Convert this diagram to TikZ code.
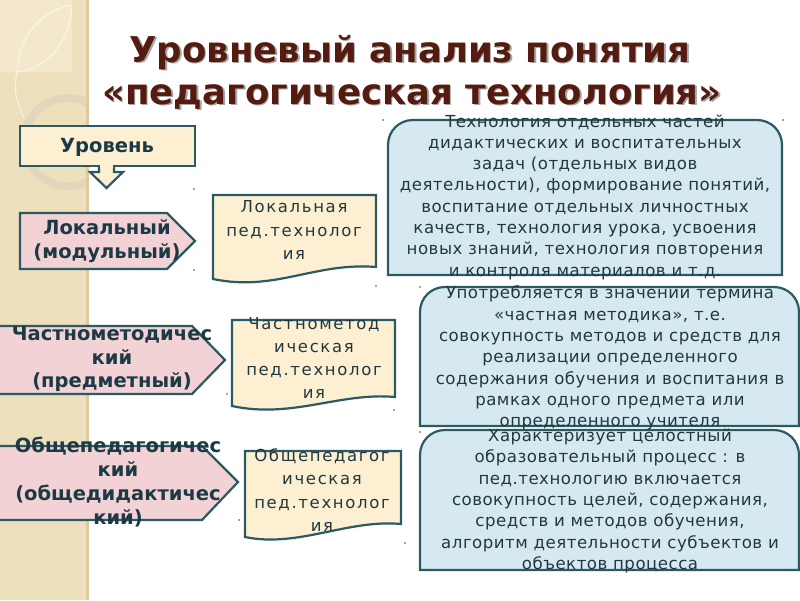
\documentclass[tikz,border=0pt]{standalone}
\usepackage{fontspec}
\setmainfont{DejaVu Sans}
\newfontfamily\dvs[LetterSpace=3]{DejaVu Sans}
\newfontfamily\dvw[LetterSpace=10]{DejaVu Sans}
\definecolor{bordc}{HTML}{2C5A64}
\definecolor{creamc}{HTML}{FDF0D2}
\definecolor{pinkc}{HTML}{F2D2D5}
\definecolor{bluec}{HTML}{D7E9F0}
\definecolor{labc}{HTML}{1B3A46}
\definecolor{boxtxt}{HTML}{22383F}
\definecolor{titc}{HTML}{561B10}
\definecolor{stripc}{HTML}{EFE0BD}
\definecolor{stripl}{HTML}{F4E8CC}
\definecolor{stripd}{HTML}{DCCB9F}
\definecolor{ringc}{HTML}{E2D6BC}
\tikzset{
  bord/.style={draw=bordc, line width=2.2pt, line join=miter},
  bluebox/.style={bord, fill=bluec},
  docbox/.style={bord, fill=creamc},
  pentbox/.style={bord, fill=pinkc},
  titletxt/.style={font=\bfseries\fontsize{35.5}{42}\selectfont, text=titc, inner sep=0pt, anchor=base},
  titleshadow/.style={font=\bfseries\fontsize{35.5}{42}\selectfont, text=black!35, inner sep=0pt, anchor=base},
  bluetxt/.style={font=\dvs\fontsize{16.6}{21.3}\selectfont, text=boxtxt, align=center, inner sep=0pt},
  doctxt/.style={font=\dvw\fontsize{16.5}{23.3}\selectfont, text=boxtxt, align=center, inner sep=0pt},
  labtxt/.style={font=\bfseries\fontsize{19.5}{23.7}\selectfont, text=labc, align=center, inner sep=0pt},
  handle/.style={fill=black!70, draw=none},
}
\begin{document}
\begin{tikzpicture}[x=1pt,y=-1pt]
\useasboundingbox (0,0) rectangle (800,600);
\fill[white] (0,0) rectangle (800,600);
% decorative left strip
\fill[stripc] (0,0) rectangle (88,600);
\fill[stripd] (86,0) rectangle (89,600);
\fill[stripl] (0,0) rectangle (72,72);
\begin{scope}
  \clip (0,0) rectangle (86,600);
  \draw[ringc, line width=8pt] (68,142) circle[radius=44];
  \draw[white!70!stripc, line width=1pt] (17,72) .. controls (20,30) and (45,10) .. (72,5);
  \draw[white!70!stripc, line width=1pt] (17,72) .. controls (50,68) and (70,40) .. (72,5);
  \draw[white!60!stripc, line width=1pt] (17,72) .. controls (13,90) and (17,105) .. (24,118);
\end{scope}
% title
\node[titleshadow] (t1s) at (411.5,63.5) {Уровневый анализ понятия};
\node[titleshadow] (t2s) at (413.5,105.5) {«педагогическая технология»};
\node[titletxt] (t1) at (410,62) {Уровневый анализ понятия};
\node[titletxt] (t2) at (412,104) {«педагогическая технология»};
% level box with down arrow
\draw[bord, fill=creamc] (20,126) rectangle (195,166);
\filldraw[bord, fill=creamc] (99,166) -- (99,172) -- (90,172) -- (106.5,188) -- (123,172) -- (114,172) -- (114,166);
\fill[creamc] (100.2,163.5) rectangle (112.8,168);
\node[labtxt] (lvl) at (107,147) {Уровень};
% pentagons
\draw[pentbox] (20,213) -- (167,213) -- (195,241) -- (167,269) -- (20,269) -- cycle;
\node[labtxt] (p1) at (107,241) {Локальный\\(модульный)};
\draw[pentbox] (-2,326) -- (192,326) -- (225,360) -- (192,394) -- (-2,394) -- cycle;
\node[labtxt] (p2) at (112,359) {Частнометодичес\\кий\\(предметный)};
\draw[pentbox] (-2,446) -- (202,446) -- (238,482) -- (202,520) -- (-2,520) -- cycle;
\node[labtxt] (p3) at (118,482) {Общепедагогичес\\кий\\(общедидактичес\\кий)};
% document boxes
\draw[docbox] (213,195) -- (376,195) -- (376,267) .. controls (315,262) and (275,292) .. (213,279) -- cycle;
\node[doctxt] (d1) at (294,230) {Локальная\\пед.технолог\\ия};
\draw[docbox] (232,320) -- (395,320) -- (395,397) .. controls (340,392) and (292,419) .. (232,406) -- cycle;
\node[doctxt] (d2) at (314,358) {Частнометод\\ическая\\пед.технолог\\ия};
\draw[docbox] (245,451) -- (401,451) -- (401,524) .. controls (348,519) and (298,548) .. (245,537) -- cycle;
\node[doctxt] (d3) at (322,490) {Общепедагог\\ическая\\пед.технолог\\ия};
% blue boxes (rounded top corners)
\draw[bluebox] (388,275) -- (388,145) .. controls (388,131) and (399,120) .. (413,120) -- (757,120) .. controls (771,120) and (782,131) .. (782,145) -- (782,275) -- cycle;
\node[bluetxt] (b1) at (585,197) {Технология отдельных частей\\дидактических и воспитательных\\задач (отдельных видов\\деятельности), формирование понятий,\\воспитание отдельных личностных\\качеств, технология урока, усвоения\\новых знаний, технология повторения\\и контроля материалов и т.д.};
\draw[bluebox] (420,426) -- (420,312) .. controls (420,298) and (431,287) .. (445,287) -- (774,287) .. controls (788,287) and (799,298) .. (799,312) -- (799,426) -- cycle;
\node[bluetxt] (b2) at (610,358) {Употребляется в значении термина\\«частная методика», т.е.\\совокупность методов и средств для\\реализации определенного\\содержания обучения и воспитания в\\рамках одного предмета или\\определенного учителя};
\draw[bluebox] (420,570) -- (420,455) .. controls (420,441) and (431,430) .. (445,430) -- (774,430) .. controls (788,430) and (799,441) .. (799,455) -- (799,570) -- cycle;
\node[bluetxt] (b3) at (610,501) {Характеризует целостный\\образовательный процесс : в\\пед.технологию включается\\совокупность целей, содержания,\\средств и методов обучения,\\алгоритм деятельности субъектов и\\объектов процесса};
% small selection handles
\foreach \hx/\hy in {383/120, 783/120, 194/189, 194/270, 376/286, 227/394, 394/410, 239/520, 420/287, 420/432, 405/543}
  \fill[handle] (\hx,\hy) circle[radius=0.9];
\end{tikzpicture}
\end{document}
